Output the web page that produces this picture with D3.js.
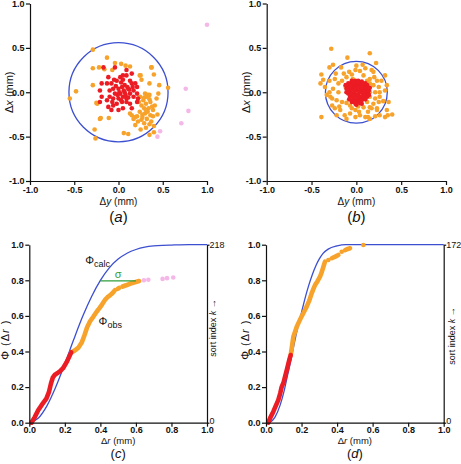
<!DOCTYPE html>
<html><head><meta charset="utf-8">
<script src="https://cdn.jsdelivr.net/npm/d3@7"></script>
<style>
html,body{margin:0;padding:0;background:#fff;}
svg{display:block;}
text{font-family:"Liberation Sans",Arial,sans-serif;fill:#111;}
</style></head>
<body>
<svg id="chart" width="461" height="464"></svg>
<script>
// ---------- DATA (mm) ----------
// panel (a): [Δy, Δx]
const aRed = [[-0.17,0.28],[-0.04,0.28],[0.05,0.19],[0.09,0.19],[0.02,0.17],[-0.02,0.13],[-0.08,0.10],[-0.13,0.10],[-0.19,0.10],
 [0.13,0.13],[0.15,0.10],[0.19,0.10],[0.21,0.06],[0.17,0.02],[0.11,0.04],[0.07,0.08],[0.04,0.06],[0.00,0.04],[-0.06,0.04],
 [-0.10,0.02],[-0.04,-0.015],[0.02,-0.015],[0.07,0.00],[0.13,-0.015],[0.17,-0.05],[0.21,-0.015],[0.22,-0.07],[0.09,-0.07],
 [0.05,-0.05],[0.00,-0.07],[-0.06,-0.07],[-0.10,-0.05],[-0.115,-0.165],[-0.06,-0.15],[-0.02,-0.13],[0.04,-0.11],[0.09,-0.11],
 [0.13,-0.13],[0.05,-0.18],[0.00,-0.20],[-0.21,-0.11],[-0.08,-0.20],[0.09,0.25],[0.15,0.21],[-0.115,0.17],[-0.21,0.02],
 [-0.19,-0.05],[0.21,-0.11],[0.15,-0.18],[-0.13,-0.09],[0.03,0.11],[0.06,0.02],[-0.03,0.07],[0.10,0.06],[0.08,-0.03],
 [-0.01,-0.03],[0.12,0.03],[0.03,-0.09],[-0.05,0.14],[0.16,0.06],[0.01,0.00],[0.11,-0.06],[-0.07,-0.11],[0.05,0.14]];
const aOrange = [[-0.29,0.48],[-0.13,0.39],[-0.04,0.33],[0.03,0.32],[0.08,0.30],[0.13,0.29],[-0.29,0.27],[-0.22,0.28],
 [-0.16,0.26],[-0.07,0.25],[0.37,0.28],[0.40,0.20],[0.25,0.19],[0.26,0.14],[0.35,0.10],[0.46,0.08],[0.56,0.05],[-0.29,0.08],
 [-0.48,0.01],[-0.55,-0.07],[-0.24,-0.13],[-0.25,-0.12],[-0.20,-0.29],[-0.21,-0.30],[-0.11,-0.29],[-0.27,-0.42],[-0.26,-0.52],
 [0.06,-0.46],[0.11,-0.47],[0.40,-0.45],[0.35,-0.48],[0.19,-0.37],[0.24,0.19],[0.375,0.28],
 [0.243,-0.05],[0.30,-0.015],[0.33,-0.03],[0.28,-0.09],[0.26,-0.15],[0.31,-0.13],[0.36,-0.11],[0.34,-0.18],[0.39,-0.20],
 [0.24,-0.22],[0.30,-0.24],[0.36,-0.26],[0.39,-0.27],[0.32,-0.30],[0.26,-0.31],[0.21,-0.27],[0.15,-0.26],[0.13,-0.24],
 [0.19,-0.28],[0.41,-0.15],[0.43,-0.07],[0.45,-0.015],[0.32,-0.05],[0.35,-0.08],[0.29,-0.18],[0.33,-0.22],[0.27,-0.25],
 [0.37,-0.33],[0.29,-0.35],[0.22,-0.33],[0.17,-0.30],[0.40,-0.38],[0.31,-0.40],[0.25,-0.42],[0.44,-0.25],[0.35,-0.03],
 [0.29,-0.06],[0.38,-0.16],[0.23,-0.11],[0.35,-0.36],[0.27,-0.28],[0.31,-0.20]];
const aPink = [[0.76,0.04],[0.79,-0.21],[0.71,-0.35],[0.47,-0.44],[0.44,-0.50],[1.0,0.76]];
const aRadius = 0.56;

// panel (b): [Δy, Δx]
const bOrange = [[-0.28,0.49],[0.15,0.44],[-0.10,0.39],[0.22,0.33],[-0.26,0.31],[-0.30,0.28],[-0.17,0.28],[0.00,0.30],
 [0.07,0.31],[0.17,0.25],[0.19,0.23],[-0.01,0.25],[-0.08,0.23],[-0.14,0.21],[-0.23,0.21],[-0.39,0.20],[-0.37,0.14],
 [-0.40,0.10],[-0.30,0.13],[-0.24,0.15],[-0.20,0.10],[-0.16,0.13],[-0.11,0.17],[-0.04,0.15],[0.08,0.19],[0.12,0.13],
 [0.15,0.15],[0.23,0.13],[0.28,0.13],[0.32,0.19],[0.34,0.08],[0.25,0.06],[0.19,0.08],[0.15,0.10],[0.12,0.04],[0.15,0.00],
 [0.21,0.00],[0.26,0.00],[0.32,0.02],[0.26,-0.05],[0.21,-0.07],[0.15,-0.05],[0.10,-0.03],[0.06,-0.07],[0.12,-0.11],
 [0.19,-0.13],[0.25,-0.11],[0.30,-0.10],[0.34,-0.20],[0.23,-0.18],[0.17,-0.18],[0.13,-0.22],[0.08,-0.17],[0.02,-0.16],
 [-0.01,-0.20],[-0.07,-0.15],[-0.11,-0.12],[-0.16,-0.11],[-0.22,-0.09],[-0.27,-0.07],[-0.33,-0.03],[-0.30,0.00],
 [-0.26,0.04],[-0.20,0.00],[-0.35,0.06],[-0.29,-0.05],[-0.24,-0.18],[-0.18,-0.20],[-0.13,-0.26],[-0.07,-0.24],
 [-0.01,-0.28],[0.04,-0.26],[0.10,-0.28],[0.15,-0.30],[0.21,-0.27],[0.23,-0.20],[0.26,-0.26],[-0.22,-0.26],[-0.11,-0.30],
 [-0.39,-0.28],[-0.27,-0.15],[-0.19,-0.16],[0.03,-0.22],[-0.05,-0.18],[0.32,-0.28],[0.36,-0.11],[0.15,-0.17],
 [0.13,-0.28],[0.35,-0.26],[0.40,-0.25],[0.04,0.24],[-0.05,0.20],[0.10,0.27],[-0.12,0.06],[0.20,0.17]];
const bRed = [[-0.09,0.10],[-0.05,0.13],[-0.01,0.13],[0.02,0.13],[0.06,0.12],[0.10,0.10],[-0.07,0.06],[-0.03,0.08],
 [0.00,0.08],[0.04,0.07],[0.08,0.06],[0.12,0.05],[-0.11,0.04],[-0.08,0.01],[-0.04,0.03],[0.00,0.02],[0.03,0.01],
 [0.07,0.00],[0.11,0.00],[0.14,0.02],[-0.09,-0.015],[-0.05,-0.02],[-0.01,-0.03],[0.02,-0.03],[0.06,-0.045],[0.10,-0.03],
 [-0.03,-0.07],[0.00,-0.09],[0.04,-0.09],[0.08,-0.07],[-0.01,-0.13],[0.02,-0.11],[-0.07,-0.05],[-0.11,0.00],[-0.05,-0.11],
 [0.06,-0.13],[0.01,0.05],[0.05,0.03],[-0.02,-0.01],[0.09,0.03],[-0.06,0.10],[0.08,0.09],[0.04,-0.06],[-0.03,0.05],
 [-0.08,0.08],[-0.02,0.10],[0.03,0.10],[0.07,0.10],[0.12,0.08],[-0.10,0.06],[-0.05,0.05],[0.02,0.06],[0.06,0.05],
 [0.10,0.05],[0.13,0.04],[-0.07,0.02],[-0.02,0.02],[0.05,0.00],[0.09,0.01],[0.13,-0.01],[-0.07,-0.02],[-0.03,-0.04],
 [0.01,-0.05],[0.08,-0.04],[0.12,-0.05],[-0.04,-0.09],[0.02,-0.07],[0.06,-0.09],[0.10,-0.08],[-0.02,-0.11],[0.04,-0.12],
 [0.00,-0.14],[-0.08,-0.08],[0.15,0.05],[0.14,-0.03],[-0.12,0.08],[0.01,0.11],[-0.03,0.12]];
const bRadius = 0.345;

// panel (c): Φ_obs [Δr, Φ]
const cRed = [[0.012,0.0],[0.03,0.03],[0.05,0.07],[0.07,0.10],[0.096,0.135],[0.11,0.17],[0.122,0.22],[0.133,0.255],
 [0.143,0.268],[0.16,0.28],[0.172,0.288],[0.19,0.306],[0.21,0.34],[0.236,0.395]];
const cOrange = [
 [[0.236,0.395],[0.255,0.405],[0.275,0.42],[0.295,0.45],[0.31,0.49],[0.325,0.535],[0.342,0.57],[0.36,0.595],[0.38,0.625],
  [0.396,0.645],[0.41,0.665],[0.426,0.69],[0.44,0.705],[0.454,0.715],[0.47,0.73],[0.482,0.745]],
 [[0.497,0.752],[0.505,0.757]],
 [[0.525,0.765],[0.545,0.772],[0.57,0.782],[0.59,0.788],[0.604,0.792],[0.618,0.796]]];
const cPink = [[0.645,0.80],[0.67,0.803],[0.75,0.808],[0.775,0.812],[0.81,0.816]];
const cCalc = [[0,0],[0.05,0.025],[0.1,0.096],[0.15,0.203],[0.2,0.331],[0.25,0.467],[0.3,0.596],[0.35,0.708],[0.4,0.8],
 [0.45,0.87],[0.5,0.919],[0.55,0.952],[0.6,0.973],[0.65,0.986],[0.7,0.993],[0.75,0.9965],[0.8,0.998],[0.9,1.0],[1.0,1.0]];
const cSigma = [[0.4,0.797],[0.6,0.797]];
const cCount = 218;

// panel (d): Φ_obs [Δr, Φ]
const dRed = [[0.013,0],[0.025,0.03],[0.041,0.062],[0.055,0.095],[0.069,0.127],[0.08,0.165],[0.088,0.20],[0.1,0.23],
 [0.107,0.258],[0.118,0.30],[0.126,0.333],[0.133,0.36],[0.139,0.38]];
const dOrange = [
 [[0.139,0.38],[0.145,0.42],[0.154,0.483],[0.165,0.515],[0.173,0.539],[0.185,0.565],[0.20,0.596],[0.215,0.625],
  [0.229,0.652],[0.245,0.69],[0.257,0.727],[0.268,0.755],[0.276,0.773],[0.29,0.795],[0.304,0.82],[0.315,0.85],
  [0.323,0.876],[0.332,0.905]],
 [[0.351,0.914]],
 [[0.37,0.924],[0.39,0.933],[0.407,0.942]],
 [[0.426,0.96]],
 [[0.445,0.97],[0.46,0.976],[0.473,0.98]],
 [[0.548,0.998]]];
const dCalc = [[0.02,0],[0.05,0.03],[0.08,0.10],[0.1,0.17],[0.12,0.26],[0.14,0.35],[0.16,0.45],[0.18,0.54],[0.2,0.62],
 [0.22,0.70],[0.24,0.77],[0.26,0.83],[0.28,0.88],[0.3,0.92],[0.32,0.95],[0.35,0.975],[0.4,0.993],[0.45,1.0],[1.0,1.0]];
const dCount = 172;

const scatterTicks = [-1.0,-0.5,0.0,0.5,1.0];
const cdfXTicks = [0.0,0.2,0.4,0.6,0.8,1.0];
const cdfYTicks = [0.0,0.2,0.4,0.6,0.8,1.0];

// ---------- STYLE ----------
const RED="#ec1c24", ORANGE="#f7a22a", PINK="#f4b8e8", BLUE="#3c4fd0", GREEN="#2f9e3a";
const svg = d3.select("#chart");
const fmt = d => d.toFixed(1).replace("\u2212","-");

function styleAxis(g){
  g.selectAll("path.domain").attr("stroke","#111").attr("stroke-width",1.2);
  g.selectAll(".tick line").attr("stroke","#111").attr("stroke-width",1.2);
  g.selectAll(".tick text").attr("font-family","Liberation Sans, Arial, sans-serif").attr("font-size",9)
    .attr("font-weight","bold").attr("fill","#222");
}

function caption(cx, y, letter, size){
  const t = svg.append("text").attr("x",cx).attr("y",y).attr("text-anchor","middle")
    .attr("font-family","Liberation Serif, Times New Roman, serif").attr("font-size",size);
  t.append("tspan").text("(");
  t.append("tspan").attr("font-style","italic").text(letter);
  t.append("tspan").text(")");
}

function scatterPanel(px0, px1, py0, py1, orange, red, pink, radius, letter){
  const x = d3.scaleLinear().domain([-1,1]).range([px0,px1]);
  const y = d3.scaleLinear().domain([-1,1]).range([py1,py0]);
  const g = svg.append("g");
  g.append("circle").attr("cx",x(0)).attr("cy",y(0)).attr("r",x(radius)-x(0))
    .attr("fill","none").attr("stroke",BLUE).attr("stroke-width",1.3);
  const dot = (arr,col)=> g.append("g").selectAll("circle").data(arr).join("circle")
    .attr("cx",d=>x(d[0])).attr("cy",d=>y(d[1])).attr("r",2.3).attr("fill",col);
  dot(pink,PINK); dot(orange,ORANGE); dot(red,RED);
  const ax = svg.append("g").attr("transform",`translate(0,${py1})`)
    .call(d3.axisBottom(x).tickValues(scatterTicks).tickFormat(fmt).tickSize(4).tickSizeOuter(0).tickPadding(1.5));
  styleAxis(ax);
  const ay = svg.append("g").attr("transform",`translate(${px0},0)`)
    .call(d3.axisLeft(y).tickValues(scatterTicks).tickFormat(fmt).tickSize(4).tickSizeOuter(0).tickPadding(1.5));
  styleAxis(ay);
  const cx = (px0+px1)/2;
  const xl = svg.append("text").attr("x",cx).attr("y",py1+24).attr("text-anchor","middle").attr("font-size",10);
  xl.append("tspan").text("\u0394");
  xl.append("tspan").attr("font-style","italic").text("y");
  xl.append("tspan").text(" (mm)");
  const yl = svg.append("text").attr("transform",`translate(${px0-17},${(py0+py1)/2}) rotate(-90)`)
    .attr("text-anchor","middle").attr("font-size",11);
  yl.append("tspan").text("\u0394");
  yl.append("tspan").attr("font-style","italic").text("x");
  yl.append("tspan").text(" (mm)");
  caption(cx, py1+41, letter, 15);
}

function cdfPanel(px0, px1, py0, py1, calc, red, orangeSegs, pink, count, letter, yLabX, rLabX, rLabY){
  const x = d3.scaleLinear().domain([0,1]).range([px0,px1]);
  const y = d3.scaleLinear().domain([0,1]).range([py1,py0]);
  const g = svg.append("g");
  const line = d3.line().x(d=>x(d[0])).y(d=>y(d[1]));
  const sline = d3.line().x(d=>x(d[0])).y(d=>y(d[1])).curve(d3.curveMonotoneX);
  g.append("path").attr("d",sline(calc)).attr("fill","none").attr("stroke",BLUE).attr("stroke-width",1.3);
  const thick = (pts,col)=>{
    if(pts.length===1){
      g.append("circle").attr("cx",x(pts[0][0])).attr("cy",y(pts[0][1])).attr("r",2.3).attr("fill",col);
    } else {
      g.append("path").attr("d",line(pts)).attr("fill","none").attr("stroke",col).attr("stroke-width",4.6)
        .attr("stroke-linecap","round").attr("stroke-linejoin","round");
    }
  };
  orangeSegs.forEach(s=>thick(s,ORANGE));
  thick(red,RED);
  g.append("g").selectAll("circle").data(pink).join("circle")
    .attr("cx",d=>x(d[0])).attr("cy",d=>y(d[1])).attr("r",2.3).attr("fill",PINK);
  const ax = svg.append("g").attr("transform",`translate(0,${py1})`)
    .call(d3.axisBottom(x).tickValues(cdfXTicks).tickFormat(fmt).tickSize(4).tickSizeOuter(0).tickPadding(0));
  styleAxis(ax);
  const ay = svg.append("g").attr("transform",`translate(${px0},0)`)
    .call(d3.axisLeft(y).tickValues(cdfYTicks).tickFormat(fmt).tickSize(4).tickSizeOuter(0).tickPadding(1.5));
  styleAxis(ay);
  const k = d3.scaleLinear().domain([0,count]).range([py1,py0]);
  const ar = svg.append("g").attr("transform",`translate(${px1},0)`)
    .call(d3.axisRight(k).tickValues([0,count]).tickFormat(d3.format("d")).tickSize(2.5).tickSizeOuter(0).tickPadding(0));
  styleAxis(ar);
  ar.selectAll(".tick text").attr("font-size",9).attr("font-weight","normal").attr("fill","#111");
  ar.selectAll(".tick text").filter(d=>d===0).attr("dy","0.05em");
  const cx = (px0+px1)/2;
  const xl = svg.append("text").attr("x",cx).attr("y",py1+21.5).attr("text-anchor","middle").attr("font-size",9.5);
  xl.append("tspan").text("\u0394");
  xl.append("tspan").attr("font-style","italic").text("r");
  xl.append("tspan").text(" (mm)");
  const yl = svg.append("text").attr("transform",`translate(${yLabX},${(py0+py1)/2+6}) rotate(-90)`)
    .attr("text-anchor","middle").attr("font-size",11).attr("letter-spacing",1);
  yl.append("tspan").text("\u03a6 (\u0394");
  yl.append("tspan").attr("font-style","italic").text("r");
  yl.append("tspan").text(" )");
  const rl = svg.append("text").attr("transform",`translate(${rLabX},${rLabY}) rotate(-90)`)
    .attr("text-anchor","middle").attr("font-size",9);
  rl.append("tspan").text("sort index ");
  rl.append("tspan").attr("font-style","italic").text("k");
  rl.append("tspan").text(" \u2192");
  caption(cx, py1+35, letter, 13);
  return {x,y};
}

scatterPanel(30, 207, 3.5, 181, aOrange, aRed, aPink, aRadius, "a");
scatterPanel(266.7, 446, 3.5, 181, bOrange, bRed, [], bRadius, "b");
const C = cdfPanel(29.3, 207, 244.7, 422.7, cCalc, cRed, cOrange, cPink, cCount, "c", 8.5, 215.5, 328);
cdfPanel(266, 443.7, 244.7, 422.7, dCalc, dRed, dOrange, [], dCount, "d", 248.5, 454.5, 336);

// annotations in (c)
svg.append("path").attr("d", d3.line().x(d=>C.x(d[0])).y(d=>C.y(d[1]))(cSigma))
  .attr("fill","none").attr("stroke",GREEN).attr("stroke-width",1.4);
svg.append("text").attr("x",C.x(0.5)).attr("y",C.y(0.815)).attr("text-anchor","middle")
  .attr("font-size",11).style("fill",GREEN).text("\u03c3");
const pc = svg.append("text").attr("x",C.x(0.315)).attr("y",C.y(0.89)).attr("font-size",11);
pc.append("tspan").text("\u03a6");
pc.append("tspan").attr("font-size",9).attr("dy",3).text("calc");
const po = svg.append("text").attr("x",C.x(0.39)).attr("y",C.y(0.55)).attr("font-size",11);
po.append("tspan").text("\u03a6");
po.append("tspan").attr("font-size",9).attr("dy",3).text("obs");
</script>
</body></html>
